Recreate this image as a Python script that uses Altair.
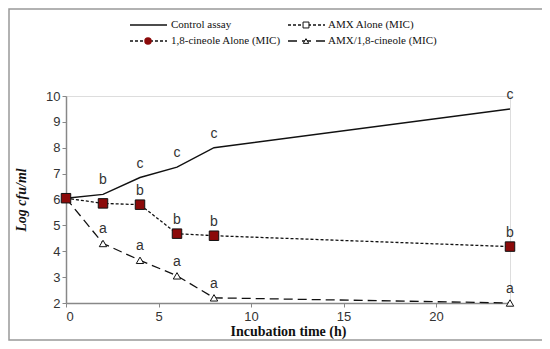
import altair as alt
import pandas as pd

hours = [0, 2, 4, 6, 8, 24]
control = [6.05, 6.2, 6.85, 7.25, 8.0, 9.5]
cineole = [6.05, 5.85, 5.8, 4.68, 4.6, 4.18]
combo = [6.05, 4.3, 3.65, 3.05, 2.2, 2.0]

control_letters = ["", "b", "c", "c", "c", "c"]
cineole_letters = ["", "", "b", "b", "b", "b"]
combo_letters = ["", "a", "a", "a", "a", "a"]

x_ticks = [0, 5, 10, 15, 20]
y_ticks = [2, 3, 4, 5, 6, 7, 8, 9, 10]

df_c = pd.DataFrame({"t": hours, "v": control, "l": control_letters})
df_n = pd.DataFrame({"t": hours, "v": cineole, "l": cineole_letters})
df_a = pd.DataFrame({"t": hours, "v": combo, "l": combo_letters})

xs = alt.Scale(domain=[0, 24], nice=False)
ys = alt.Scale(domain=[2, 10], nice=False)

X = alt.X("t:Q", scale=xs, axis=alt.Axis(title="Incubation time (h)", values=x_ticks,
                                          grid=False, titleFont="Liberation Serif", titleFontWeight="bold",
                                          titleFontSize=14, titleColor="#111", titlePadding=1,
                                          labelFont="Liberation Sans", labelFontSize=13, labelColor="#333",
                                          labelOverlap=False, labelPadding=3,
                                          domainColor="#888", domainWidth=1.5, tickColor="#888", tickSize=4))
Y = alt.Y("v:Q", scale=ys, axis=alt.Axis(title="Log cfu/ml", values=y_ticks, grid=False,
                                          titleFont="Liberation Serif", titleFontWeight="bold",
                                          titleFontStyle="italic", titleFontSize=14, titleColor="#111",
                                          titlePadding=17, labelOverlap=False, tickCount=9,
                                          labelFont="Liberation Sans", labelFontSize=13, labelColor="#333",
                                          domainColor="#888", domainWidth=1.5, tickColor="#888", tickSize=4))

line_c = alt.Chart(df_c).mark_line(color="#111", strokeWidth=1.4).encode(x=X, y=Y)
line_a = alt.Chart(df_a).mark_line(color="#111", strokeWidth=1.3, strokeDash=[9, 5]).encode(x=X, y=Y)
pts_a = alt.Chart(df_a).mark_point(shape="triangle-up", size=55, fill="white", stroke="#111",
                                   strokeWidth=1, opacity=1, filled=True).encode(x=X, y=Y)
line_n = alt.Chart(df_n).mark_line(color="#111", strokeWidth=1.3, strokeDash=[3, 2]).encode(x=X, y=Y)
pts_n = alt.Chart(df_n).mark_point(shape="square", size=90, fill="#8B0A0A", stroke="#111",
                                   strokeWidth=1, opacity=1, filled=True).encode(x=X, y=Y)

def letters(df):
    return alt.Chart(df).mark_text(font="Liberation Sans", fontSize=14, color="#333", dy=-14).encode(
        x=X, y=Y, text="l:N")

# legend
leg_text = pd.DataFrame({
    "x": [105, 105, 262, 262],
    "y": [-71, -55, -71, -55],
    "s": ["Control assay", "1,8-cineole Alone (MIC)", "AMX Alone (MIC)", "AMX/1,8-cineole (MIC)"],
})
lt = alt.Chart(leg_text).mark_text(font="Liberation Serif", fontSize=11, color="#111", align="left",
                                   baseline="middle").encode(
    x=alt.X("x:Q", scale=None), y=alt.Y("y:Q", scale=None), text="s:N")
l1 = alt.Chart(pd.DataFrame({"a": [0]})).mark_rule(color="#111", strokeWidth=1.4).encode(
    x=alt.value(64), x2=alt.value(101), y=alt.value(-71))
l2 = alt.Chart(pd.DataFrame({"a": [0]})).mark_rule(color="#111", strokeWidth=1.3, strokeDash=[3, 2]).encode(
    x=alt.value(64), x2=alt.value(101), y=alt.value(-55))
l3 = alt.Chart(pd.DataFrame({"a": [0]})).mark_rule(color="#111", strokeWidth=1.3, strokeDash=[3, 2]).encode(
    x=alt.value(222), x2=alt.value(259), y=alt.value(-71))
l4 = alt.Chart(pd.DataFrame({"a": [0]})).mark_rule(color="#111", strokeWidth=1.3, strokeDash=[9, 5]).encode(
    x=alt.value(222), x2=alt.value(259), y=alt.value(-55))
m2 = alt.Chart(pd.DataFrame({"a": [0]})).mark_point(shape="circle", size=30, fill="#8B0A0A", stroke="#8B0A0A",
                                                   filled=True, opacity=1).encode(x=alt.value(82), y=alt.value(-55))
m3 = alt.Chart(pd.DataFrame({"a": [0]})).mark_point(shape="square", size=35, fill="white", stroke="#111",
                                                   strokeWidth=1, filled=True, opacity=1).encode(
    x=alt.value(240), y=alt.value(-71))
m4 = alt.Chart(pd.DataFrame({"a": [0]})).mark_point(shape="triangle-up", size=30, fill="white", stroke="#111",
                                                   strokeWidth=1, filled=True, opacity=1).encode(
    x=alt.value(240), y=alt.value(-55))

border = alt.Chart(pd.DataFrame({"a": [0]})).mark_rect(fill=None, stroke="#999", strokeWidth=1.5).encode(
    x=alt.value(-57), x2=alt.value(479), y=alt.value(-87), y2=alt.value(244))

chart = alt.layer(
    border, line_c, line_a, pts_a, line_n, pts_n,
    letters(df_c), letters(df_n), letters(df_a),
    l1, l2, l3, l4, m2, m3, m4, lt,
).properties(
    width=444, height=207,
    padding={"left": 58, "top": 88, "right": 32, "bottom": 38},
    autosize=alt.AutoSizeParams(type="none"),
).configure_view(stroke=None).configure(background="white")

chart.save("out.html", embed_options={"renderer": "svg", "actions": False})
